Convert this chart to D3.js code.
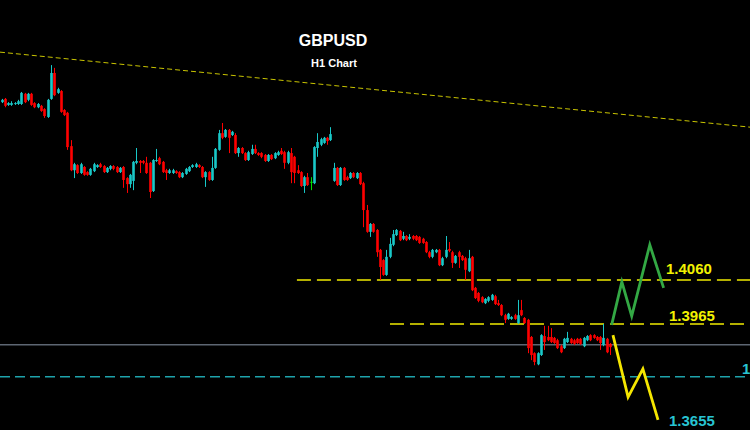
<!DOCTYPE html>
<html><head><meta charset="utf-8">
<script src="https://cdn.jsdelivr.net/npm/d3@7"></script>
<style>html,body{margin:0;padding:0;background:#000;overflow:hidden}</style>
</head><body><svg id="c" width="750" height="430"></svg>
<script>
// H1 candles, GBPUSD
const opens = [1.4444,1.4451,1.4438,1.4438,1.4440,1.4440,1.4440,1.4462,1.4449,1.4462,1.4442,1.4433,1.4436,1.4429,1.4412,1.4451,1.4507,1.4464,1.4468,1.4427,1.4421,1.4349,1.4297,1.4308,1.4291,1.4304,1.4293,1.4287,1.4295,1.4304,1.4310,1.4306,1.4293,1.4300,1.4306,1.4304,1.4293,1.4304,
1.4280,1.4267,1.4274,1.4313,1.4317,1.4317,1.4313,1.4313,1.4252,1.4317,1.4323,1.4315,1.4297,1.4291,1.4291,1.4295,1.4293,1.4282,1.4289,1.4295,1.4304,1.4304,1.4308,1.4304,1.4282,1.4293,1.4276,1.4302,1.4341,1.4377,1.4369,1.4384,1.4373,
1.4373,1.4334,1.4345,1.4334,1.4319,1.4332,1.4343,1.4334,1.4334,1.4330,1.4317,1.4330,1.4323,1.4330,1.4339,1.4336,1.4313,1.4334,1.4326,1.4297,1.4293,1.4263,1.4282,1.4272,1.4269,1.4345,1.4352,1.4356,1.4367,1.4362,
1.4274,1.4302,1.4265,1.4302,1.4282,1.4280,1.4291,1.4280,1.4291,1.4269,1.4211,1.4164,1.4181,1.4168,1.4125,1.4103,1.4071,1.4110,1.4136,1.4157,1.4166,1.4149,1.4155,1.4149,1.4155,1.4155,1.4153,1.4149,1.4142,1.4120,1.4110,1.4120,1.4125,1.4092,1.4110,1.4127,1.4120,1.4097,1.4120,1.4112,1.4107,1.4079,1.4110,1.4043,
1.4032,1.4023,1.4010,1.4015,1.4017,1.4025,1.4010,1.4006,1.3984,1.3976,1.3976,1.3984,1.3967,1.3995,1.3978,1.3974,1.3937,1.3902,1.3878,1.3898,1.3939,1.3937,1.3937,1.3935,1.3930,1.3917,1.3913,1.3926,1.3933,1.3930,1.3933,1.3933,1.3917,1.3930,1.3941,1.3941,1.3937,1.3937,1.3920,1.3933,1.3922];
const closes = [1.4449,1.4436,1.4442,1.4442,1.4442,1.4446,1.4464,1.4444,1.4462,1.4438,1.4433,1.4440,1.4425,1.4414,1.4449,1.4507,1.4459,1.4472,1.4423,1.4416,1.4347,1.4297,1.4310,1.4291,1.4310,1.4287,1.4287,1.4300,1.4310,1.4308,1.4304,1.4293,1.4302,1.4306,1.4300,1.4293,1.4302,1.4276,
1.4267,1.4287,1.4315,1.4317,1.4313,1.4313,1.4291,1.4250,1.4319,1.4319,1.4310,1.4293,1.4291,1.4297,1.4297,1.4291,1.4282,1.4291,1.4300,1.4304,1.4308,1.4310,1.4304,1.4282,1.4293,1.4276,1.4302,1.4343,1.4377,1.4367,1.4384,1.4367,1.4380,
1.4334,1.4345,1.4334,1.4319,1.4336,1.4343,1.4334,1.4330,1.4326,1.4317,1.4330,1.4321,1.4334,1.4336,1.4332,1.4313,1.4336,1.4293,1.4291,1.4291,1.4263,1.4282,1.4265,1.4272,1.4347,1.4358,1.4364,1.4367,1.4360,1.4375,
1.4302,1.4265,1.4302,1.4276,1.4276,1.4291,1.4282,1.4291,1.4267,1.4211,1.4164,1.4181,1.4164,1.4120,1.4088,1.4071,1.4110,1.4138,1.4159,1.4168,1.4146,1.4155,1.4146,1.4153,1.4149,1.4146,1.4140,1.4140,1.4120,1.4110,1.4125,1.4125,1.4092,1.4107,1.4125,1.4123,1.4097,1.4112,1.4110,1.4103,1.4082,1.4107,1.4038,1.4021,
1.4015,1.4012,1.4019,1.4023,1.4028,1.4008,1.4006,1.3984,1.3974,1.3987,1.3980,1.3976,1.3984,1.3984,1.3967,1.3913,1.3898,1.3883,1.3902,1.3941,1.3926,1.3930,1.3926,1.3924,1.3913,1.3904,1.3933,1.3935,1.3924,1.3922,1.3924,1.3922,1.3935,1.3939,1.3930,1.3935,1.3930,1.3924,1.3935,1.3904,1.3915];
const highs = [1.4451,1.4453,1.4444,1.4446,1.4444,1.4449,1.4466,1.4464,1.4464,1.4464,1.4444,1.4442,1.4438,1.4431,1.4451,1.4524,1.4518,1.4475,1.4470,1.4429,1.4423,1.4362,1.4313,1.4310,1.4313,1.4306,1.4295,1.4302,1.4313,1.4310,1.4313,1.4308,1.4304,1.4308,1.4308,1.4306,1.4304,1.4306,
1.4282,1.4289,1.4317,1.4345,1.4319,1.4319,1.4326,1.4315,1.4321,1.4343,1.4326,1.4317,1.4300,1.4300,1.4300,1.4297,1.4295,1.4293,1.4302,1.4306,1.4310,1.4313,1.4310,1.4306,1.4295,1.4295,1.4326,1.4345,1.4384,1.4399,1.4386,1.4386,1.4382,
1.4377,1.4347,1.4347,1.4336,1.4339,1.4352,1.4352,1.4336,1.4336,1.4332,1.4332,1.4332,1.4336,1.4339,1.4345,1.4339,1.4339,1.4345,1.4328,1.4308,1.4295,1.4285,1.4291,1.4282,1.4349,1.4377,1.4367,1.4369,1.4369,1.4390,
1.4313,1.4304,1.4304,1.4304,1.4285,1.4293,1.4293,1.4293,1.4293,1.4272,1.4222,1.4183,1.4183,1.4170,1.4127,1.4105,1.4125,1.4151,1.4168,1.4170,1.4168,1.4164,1.4157,1.4159,1.4157,1.4157,1.4155,1.4151,1.4144,1.4123,1.4127,1.4127,1.4127,1.4110,1.4155,1.4142,1.4123,1.4114,1.4123,1.4114,1.4110,1.4125,1.4112,1.4045,
1.4034,1.4025,1.4021,1.4025,1.4030,1.4028,1.4017,1.4008,1.3987,1.3989,1.3982,1.3987,1.4017,1.4017,1.3980,1.3976,1.3939,1.3904,1.3904,1.3943,1.3961,1.3961,1.3956,1.3937,1.3933,1.3920,1.3935,1.3948,1.3935,1.3933,1.3935,1.3935,1.3937,1.3941,1.3943,1.3943,1.3939,1.3939,1.3965,1.3935,1.3924];
const lows = [1.4442,1.4433,1.4436,1.4436,1.4438,1.4438,1.4438,1.4442,1.4446,1.4436,1.4431,1.4431,1.4423,1.4410,1.4410,1.4449,1.4457,1.4462,1.4421,1.4414,1.4341,1.4295,1.4280,1.4289,1.4289,1.4285,1.4285,1.4285,1.4293,1.4302,1.4302,1.4291,1.4291,1.4297,1.4297,1.4291,1.4291,1.4259,
1.4248,1.4259,1.4254,1.4310,1.4291,1.4310,1.4289,1.4237,1.4250,1.4315,1.4308,1.4291,1.4276,1.4289,1.4289,1.4289,1.4280,1.4280,1.4287,1.4293,1.4302,1.4302,1.4302,1.4280,1.4261,1.4274,1.4274,1.4300,1.4339,1.4364,1.4367,1.4334,1.4371,
1.4332,1.4326,1.4332,1.4317,1.4317,1.4330,1.4332,1.4328,1.4323,1.4315,1.4315,1.4319,1.4321,1.4328,1.4330,1.4300,1.4310,1.4269,1.4269,1.4289,1.4261,1.4248,1.4263,1.4254,1.4267,1.4326,1.4349,1.4354,1.4352,1.4360,
1.4272,1.4263,1.4263,1.4274,1.4274,1.4278,1.4280,1.4278,1.4265,1.4174,1.4162,1.4153,1.4162,1.4110,1.4060,1.4069,1.4069,1.4107,1.4133,1.4155,1.4144,1.4146,1.4144,1.4146,1.4146,1.4144,1.4138,1.4138,1.4118,1.4107,1.4107,1.4118,1.4090,1.4090,1.4107,1.4120,1.4086,1.4095,1.4086,1.4101,1.4060,1.4077,1.4036,1.4019,
1.4012,1.4010,1.4008,1.4012,1.4015,1.4006,1.4004,1.3982,1.3967,1.3974,1.3974,1.3974,1.3965,1.3982,1.3965,1.3902,1.3887,1.3876,1.3876,1.3896,1.3909,1.3928,1.3924,1.3922,1.3911,1.3902,1.3911,1.3924,1.3922,1.3920,1.3922,1.3920,1.3915,1.3928,1.3928,1.3933,1.3928,1.3909,1.3917,1.3902,1.3898];

// Levels
const resistanceLevels = [1.4060, 1.3965];
const resistanceStartBar = [89.8, 118.1];
const resistanceLabels = ["1.4060", "1.3965"];
const currentPrice = 1.3920;
const supportLevel = 1.3851;
const supportLabel = "1.3850";
const targetLabel = "1.3655";
// Trendline (bar index, price)
const trendBars = [-0.5, 227.6];
const trendPrices = [1.4552, 1.4390];
// Projected scenarios (bar index, price)
const bullBars = [185.5, 188.6, 191.6, 197.1, 201.3];
const bullPrices = [1.3963, 1.4056, 1.3982, 1.4136, 1.4043];
const bearBars = [185.9, 190.5, 195.0, 199.6];
const bearPrices = [1.3941, 1.3807, 1.3868, 1.3758];

const W = 750, H = 430;
const svg = d3.select("#c");
svg.append("rect").attr("width", W).attr("height", H).attr("fill", "#000");

const n = Math.min(opens.length, closes.length, highs.length, lows.length);
const x = d3.scaleLinear().domain([0, 185]).range([1.6, 610]);
const y = d3.scaleLinear().domain([1.4060, 1.3965]).range([280, 324]);

const font = "'Liberation Sans', Arial, sans-serif";

// trendline
svg.append("line")
  .attr("x1", x(trendBars[0])).attr("y1", y(trendPrices[0]))
  .attr("x2", x(trendBars[1])).attr("y2", y(trendPrices[1]))
  .attr("stroke", "#c9c400").attr("stroke-width", 1).attr("stroke-dasharray", "5,3");

// current price line
svg.append("line").attr("x1", 0).attr("x2", W)
  .attr("y1", y(currentPrice)).attr("y2", y(currentPrice))
  .attr("stroke", "#5d6672").attr("stroke-width", 1.5);

// support dashed line
svg.append("line").attr("x1", 0).attr("x2", W)
  .attr("y1", y(supportLevel)).attr("y2", y(supportLevel))
  .attr("stroke", "#1ea3ab").attr("stroke-width", 1.5).attr("stroke-dasharray", "10,5");

// resistance levels
resistanceLevels.forEach((lv, i) => {
  svg.append("line").attr("x1", x(resistanceStartBar[i])).attr("x2", W)
    .attr("y1", y(lv)).attr("y2", y(lv))
    .attr("stroke", "#b4b000").attr("stroke-width", 1.8).attr("stroke-dasharray", "14,6");
});

// candles
const up = "#19c8c8", down = "#ff0000", doji = "#00e000";
const bw = 2.6;
const idx = d3.range(n);
const g = svg.append("g");
g.selectAll("line.wick").data(idx).join("line")
  .attr("class", "wick")
  .attr("x1", i => Math.round(x(i)) + 0.5).attr("x2", i => Math.round(x(i)) + 0.5)
  .attr("y1", i => y(highs[i])).attr("y2", i => y(lows[i]))
  .attr("stroke", i => closes[i] > opens[i] ? up : closes[i] < opens[i] ? down : doji)
  .attr("stroke-width", 1);
g.selectAll("rect.body").data(idx).join("rect")
  .attr("class", "body")
  .attr("x", i => Math.round(x(i)) + 0.5 - bw / 2)
  .attr("width", bw)
  .attr("y", i => y(Math.max(opens[i], closes[i])))
  .attr("height", i => Math.max(1, Math.abs(y(opens[i]) - y(closes[i]))))
  .attr("fill", i => closes[i] > opens[i] ? up : closes[i] < opens[i] ? down : doji);

// projected paths
const line = d3.line().x(d => x(d[0])).y(d => y(d[1]));
svg.append("path").datum(bullBars.map((b, i) => [b, bullPrices[i]]))
  .attr("d", line).attr("fill", "none").attr("stroke", "#33a844").attr("stroke-width", 2.8)
  .attr("stroke-linejoin", "miter");
svg.append("path").datum(bearBars.map((b, i) => [b, bearPrices[i]]))
  .attr("d", line).attr("fill", "none").attr("stroke", "#f5e600").attr("stroke-width", 2.8)
  .attr("stroke-linejoin", "miter");

// labels
svg.append("text").attr("x", 666).attr("y", 274).text(resistanceLabels[0])
  .attr("fill", "#f2f200").attr("font-family", font).attr("font-weight", "bold").attr("font-size", 15);
svg.append("text").attr("x", 669).attr("y", 321).text(resistanceLabels[1])
  .attr("fill", "#f2f200").attr("font-family", font).attr("font-weight", "bold").attr("font-size", 15);
svg.append("text").attr("x", 669).attr("y", 426).text(targetLabel)
  .attr("fill", "#28c4d2").attr("font-family", font).attr("font-weight", "bold").attr("font-size", 15);
svg.append("text").attr("x", 742).attr("y", 373.5).text(supportLabel)
  .attr("fill", "#28c4d2").attr("font-family", font).attr("font-weight", "bold").attr("font-size", 15);

// title
svg.append("text").attr("x", 333).attr("y", 46).attr("text-anchor", "middle").text("GBPUSD")
  .attr("fill", "#fff").attr("font-family", font).attr("font-weight", "bold").attr("font-size", 16);
svg.append("text").attr("x", 334).attr("y", 67).attr("text-anchor", "middle").text("H1 Chart")
  .attr("fill", "#fff").attr("font-family", font).attr("font-weight", "bold").attr("font-size", 11);
</script></body></html>
